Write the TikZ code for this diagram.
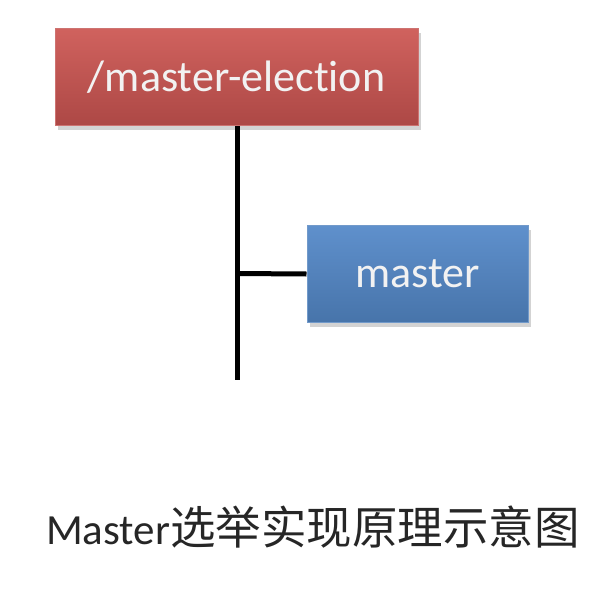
\documentclass[tikz,border=0pt]{standalone}
\usepackage{fontspec}
\setmainfont[Ligatures=NoCommon]{Carlito}
\newfontfamily\cjk{Noto Sans CJK SC}
\usetikzlibrary{positioning,shadows}
\definecolor{zkred}{HTML}{C0504D}
\definecolor{zkredtop}{HTML}{D0625E}
\definecolor{zkblue}{HTML}{4F81BD}
\definecolor{zkbluetop}{HTML}{5F90CC}

\tikzset{
  znode/.style={inner sep=0pt, text=white!95!black,
    font=\fontsize{44pt}{50pt}\selectfont,
    drop shadow={shadow xshift=3pt, shadow yshift=-4pt, opacity=0.35}},
  zred/.style={znode, minimum width=363pt, minimum height=97pt,
    top color=zkredtop, bottom color=zkred!90!black, draw=zkred!80!white, line width=1pt},
  zblue/.style={znode, minimum width=221pt, minimum height=97pt,
    top color=zkbluetop, bottom color=zkblue!90!black, draw=zkblue!80!white, line width=1pt},
  tree/.style={line width=5pt, black}
}

\begin{document}
\begin{tikzpicture}[x=1pt,y=-1pt]
   \useasboundingbox (0,0) rectangle (614,592);
   \node[zred]  (election) at (236.5,77)  {/master-election};
   \node[zblue] (master)   at (417.5,274) {master};
   \coordinate (branch) at (237,273.5);
   \coordinate (tail)   at (237,380);
   \draw[tree] (election.south -| tail) -- (tail);
   \draw[tree] (branch) -- (master.west);
   \node[anchor=base west, inner sep=0pt, text=black!85] (caption) at (46,544)
     {\fontsize{43pt}{48pt}\selectfont Master{\cjk\fontsize{45.5pt}{50pt}\selectfont 选举实现原理示意图}};
\end{tikzpicture}
\end{document}
